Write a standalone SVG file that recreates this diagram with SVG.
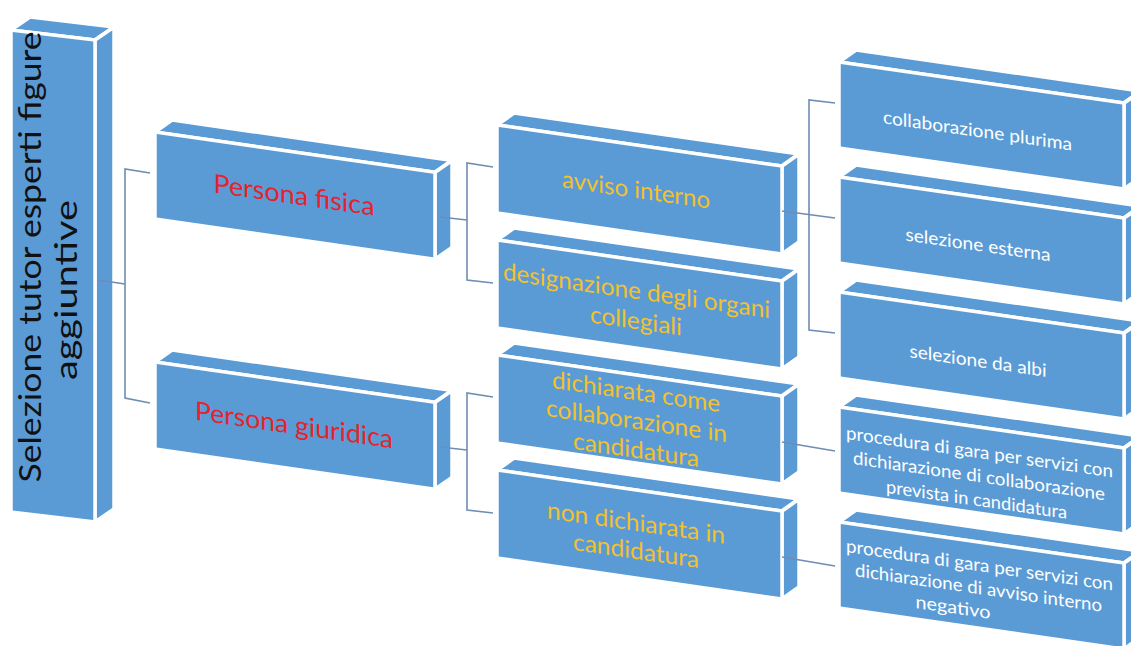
<svg xmlns="http://www.w3.org/2000/svg" xmlns:xlink="http://www.w3.org/1999/xlink" width="1131" height="646" viewBox="0 0 1131 646">
<style>
.face{fill:#5B9BD5;stroke:#fff;stroke-width:3.5;stroke-linejoin:round}
.conn{fill:none;stroke:#6F8CB4;stroke-width:1.6}
.t{font-family:Lato,"Liberation Sans",sans-serif;text-anchor:middle}
.red{fill:#E3242B;font-size:26px}
.gold{fill:#F2C12E;font-size:24px}
.wh{fill:#fff;font-size:18px}
.blk{fill:#111;font-size:30px}
</style>
<defs>
<g id="box-root">
<polygon class="face" points="0,0 19,-15.3 103,-15.3 84,0"/>
<polygon class="face" points="84,0 103,-15.3 103,466.7 84,482"/>
<rect class="face" x="0" y="0" width="84" height="482"/>
</g>
<g id="box-p">
<polygon class="face" points="0,0 17,-14.4 297,-14.4 280,0"/>
<polygon class="face" points="280,0 297,-14.4 297,72.6 280,87"/>
<rect class="face" x="0" y="0" width="280" height="87"/>
</g>
<g id="box-m">
<polygon class="face" points="0,0 17,-14.4 302,-14.4 285,0"/>
<polygon class="face" points="285,0 302,-14.4 302,73.6 285,88"/>
<rect class="face" x="0" y="0" width="285" height="88"/>
</g>
<g id="box-r">
<polygon class="face" points="0,0 17,-14.4 302,-14.4 285,0"/>
<polygon class="face" points="285,0 302,-14.4 302,71.6 285,86"/>
<rect class="face" x="0" y="0" width="285" height="86"/>
</g>
</defs>
<rect width="1131" height="646" fill="#fff"/>

<g id="n-root">
<g transform="translate(11,30) skewY(6.8)"><use xlink:href="#box-root" href="#box-root"/></g>
<text class="t blk" transform="translate(41,257) rotate(-90)" textLength="451" lengthAdjust="spacingAndGlyphs">Selezione tutor esperti figure</text>
<text class="t blk" transform="translate(77,290) rotate(-90)" textLength="180" lengthAdjust="spacingAndGlyphs">aggiuntive</text>
</g>

<g id="n-fisica" transform="translate(155,132) skewY(8.2)">
<use xlink:href="#box-p" href="#box-p"/>
<text class="t red" x="139" y="52" textLength="161" lengthAdjust="spacingAndGlyphs">Persona fisica</text>
</g>
<g id="n-giuridica" transform="translate(155,362) skewY(8.2)">
<use xlink:href="#box-p" href="#box-p"/>
<text class="t red" x="139" y="52" textLength="198" lengthAdjust="spacingAndGlyphs">Persona giuridica</text>
</g>

<g id="n-avviso" transform="translate(497,125) skewY(8.2)">
<use xlink:href="#box-m" href="#box-m"/>
<text class="t gold" x="139" y="53" textLength="148" lengthAdjust="spacingAndGlyphs">avviso interno</text>
</g>
<g id="n-designazione" transform="translate(497,240) skewY(8.2)">
<use xlink:href="#box-m" href="#box-m"/>
<text class="t gold" x="139.5" y="39" textLength="267" lengthAdjust="spacingAndGlyphs">designazione degli organi</text>
<text class="t gold" x="139" y="69" textLength="92" lengthAdjust="spacingAndGlyphs">collegiali</text>
</g>
<g id="n-dichiarata" transform="translate(497,355) skewY(8.2)">
<use xlink:href="#box-m" href="#box-m"/>
<text class="t gold" x="139" y="25" textLength="168" lengthAdjust="spacingAndGlyphs">dichiarata come</text>
<text class="t gold" x="139.5" y="54" textLength="181" lengthAdjust="spacingAndGlyphs">collaborazione in</text>
<text class="t gold" x="139" y="83" textLength="126" lengthAdjust="spacingAndGlyphs">candidatura</text>
</g>
<g id="n-nondichiarata" transform="translate(497,470) skewY(8.2)">
<use xlink:href="#box-m" href="#box-m"/>
<text class="t gold" x="139" y="41" textLength="178" lengthAdjust="spacingAndGlyphs">non dichiarata in</text>
<text class="t gold" x="139" y="69" textLength="126" lengthAdjust="spacingAndGlyphs">candidatura</text>
</g>

<g id="n-plurima" transform="translate(839,62) skewY(8.2)">
<use xlink:href="#box-r" href="#box-r"/>
<text class="t wh" x="138.5" y="55" textLength="189" lengthAdjust="spacingAndGlyphs">collaborazione plurima</text>
</g>
<g id="n-esterna" transform="translate(839,177) skewY(8.2)">
<use xlink:href="#box-r" href="#box-r"/>
<text class="t wh" x="139" y="54" textLength="145" lengthAdjust="spacingAndGlyphs">selezione esterna</text>
</g>
<g id="n-albi" transform="translate(839,292) skewY(8.2)">
<use xlink:href="#box-r" href="#box-r"/>
<text class="t wh" x="139" y="55" textLength="137" lengthAdjust="spacingAndGlyphs">selezione da albi</text>
</g>
<g id="n-gara1" transform="translate(839,407) skewY(8.2)">
<use xlink:href="#box-r" href="#box-r"/>
<text class="t wh" x="140.5" y="31" textLength="267" lengthAdjust="spacingAndGlyphs">procedura di gara per servizi con</text>
<text class="t wh" x="140" y="55" textLength="252" lengthAdjust="spacingAndGlyphs">dichiarazione di collaborazione</text>
<text class="t wh" x="137.5" y="79" textLength="181" lengthAdjust="spacingAndGlyphs">prevista in candidatura</text>
</g>
<g id="n-gara2" transform="translate(839,522) skewY(8.2)">
<use xlink:href="#box-r" href="#box-r"/>
<text class="t wh" x="140.5" y="29" textLength="267" lengthAdjust="spacingAndGlyphs">procedura di gara per servizi con</text>
<text class="t wh" x="139.5" y="52" textLength="247" lengthAdjust="spacingAndGlyphs">dichiarazione di avviso interno</text>
<text class="t wh" x="114" y="75" textLength="75" lengthAdjust="spacingAndGlyphs">negativo</text>
</g>

<g id="connectors">
<polyline class="conn" points="98,280 125,284"/>
<polyline class="conn" points="150,173 125,169 125,398 150,403"/>
<polyline class="conn" points="440,217 467,220"/>
<polyline class="conn" points="493,167 467,163 467,280 493,283"/>
<polyline class="conn" points="440,447 467,450"/>
<polyline class="conn" points="493,397 467,393 467,510 493,513"/>
<polyline class="conn" points="782,211 835,218"/>
<polyline class="conn" points="835,103 809,100 809,330 835,333"/>
<polyline class="conn" points="782,442 835,451"/>
<polyline class="conn" points="782,557 835,566"/>
</g>
</svg>
